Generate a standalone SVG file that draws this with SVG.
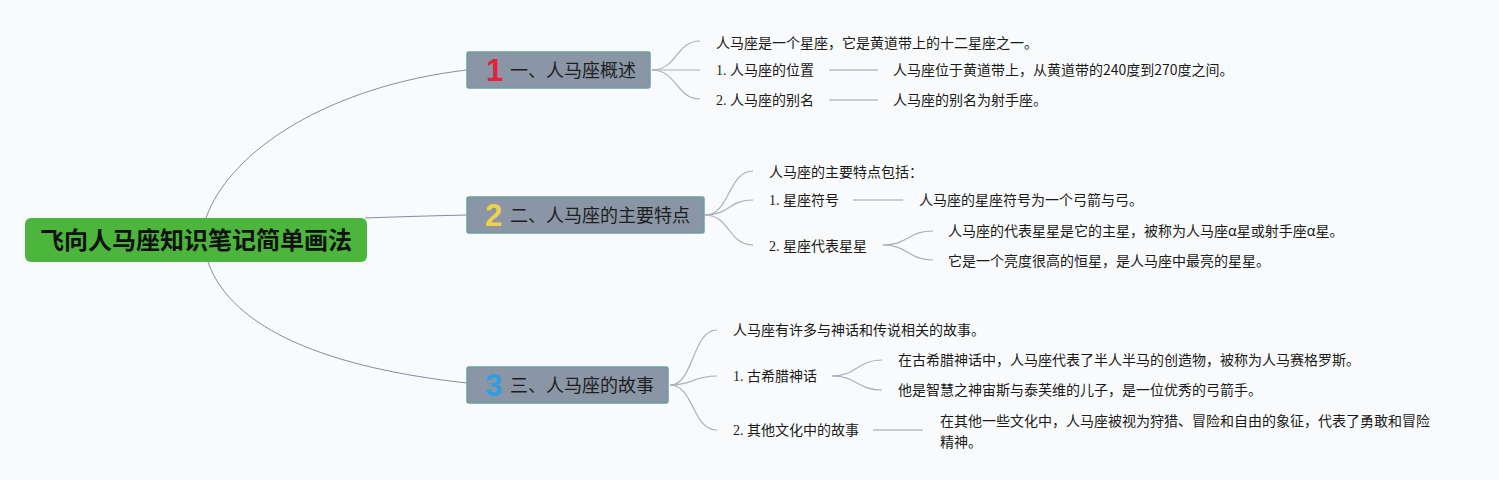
<svg xmlns="http://www.w3.org/2000/svg" width="1499" height="480" viewBox="0 0 1499 480">
<style>
.bg{fill:#f9fafb}
.root{fill:#4cb53c}
.rootT{font-family:"Noto Sans CJK SC",sans-serif;font-size:24px;font-weight:bold;fill:#111}
.br{fill:#8a96a6;stroke:#6c9e9e;stroke-width:1.5}
.brT{font-family:"Noto Sans CJK SC",sans-serif;font-size:18px;fill:#1e1e1e}
.num{font-family:"Liberation Sans",sans-serif;font-size:31px;font-weight:bold}
.t{font-family:"Noto Sans CJK SC",sans-serif;font-size:14px;fill:#1a1a1a}
.lbl{font-family:"Liberation Serif","Noto Sans CJK SC",serif;font-size:14px;fill:#1a1a1a}
.main{fill:none;stroke:#878c9b;stroke-width:1}
.sub{fill:none;stroke:#a9b0bb;stroke-width:1.2}
.st{fill:none;stroke:#b7bec9;stroke-width:1.6}
</style>
<rect class="bg" x="0" y="0" width="1499" height="480"/>
<g id="connectors">
<path class="main" d="M206 218 C230 150 330 86 467 70"/>
<path class="main" d="M365 218 Q420 216 467 215"/>
<path class="main" d="M208 262 C232 330 330 368 467 383"/>
<path class="sub" d="M652 70 C677 70 676 41 700 41"/>
<path class="sub" d="M652 70 L700 70"/>
<path class="sub" d="M652 70 C677 70 676 99 700 99"/>
<line class="st" x1="829" y1="70" x2="878" y2="70"/>
<line class="st" x1="829" y1="100" x2="878" y2="100"/>
<path class="sub" d="M705 215 C730 215 728 171 753 171"/>
<path class="sub" d="M705 215 C730 215 728 200 753 200"/>
<path class="sub" d="M705 215 C730 215 728 245 753 245"/>
<line class="st" x1="853" y1="200" x2="903" y2="200"/>
<path class="sub" d="M883 245 C908 245 908 231 933 231"/>
<path class="sub" d="M883 245 C908 245 908 260 933 260"/>
<path class="sub" d="M670 385 C694 385 692 330 717 330"/>
<path class="sub" d="M670 385 C694 385 692 376 717 376"/>
<path class="sub" d="M670 385 C694 385 692 430 717 430"/>
<path class="sub" d="M832 376 C857 376 857 360 882 360"/>
<path class="sub" d="M832 376 C857 376 857 390 882 390"/>
<line class="st" x1="873" y1="430" x2="923" y2="430"/>
</g>
<g id="root">
<rect class="root" x="25" y="218" width="342" height="44" rx="6"/>
<text class="rootT" x="196" y="249" text-anchor="middle">飞向人马座知识笔记简单画法</text>
</g>
<g id="branch1">
<rect class="br" x="467" y="52" width="183" height="36" rx="2"/>
<text class="num" x="486" y="81" fill="#e0243c">1</text>
<text class="brT" x="510" y="77">一、人马座概述</text>
</g>
<g id="b1-intro"><text class="t" x="716" y="48">人马座是一个星座，它是黄道带上的十二星座之一。</text></g>
<g id="b1-pos"><text class="lbl" x="716" y="75">1. 人马座的位置</text></g>
<g id="b1-pos-d"><text class="t" x="893" y="75">人马座位于黄道带上，从黄道带的240度到270度之间。</text></g>
<g id="b1-alias"><text class="lbl" x="716" y="105">2. 人马座的别名</text></g>
<g id="b1-alias-d"><text class="t" x="893" y="105">人马座的别名为射手座。</text></g>
<g id="branch2">
<rect class="br" x="467" y="197" width="237" height="36" rx="2"/>
<text class="num" x="485" y="226" fill="#f0d24a">2</text>
<text class="brT" x="510" y="222">二、人马座的主要特点</text>
</g>
<g id="b2-intro"><text class="t" x="769" y="177">人马座的主要特点包括：</text></g>
<g id="b2-sym"><text class="lbl" x="769" y="205">1. 星座符号</text></g>
<g id="b2-sym-d"><text class="t" x="919" y="205">人马座的星座符号为一个弓箭与弓。</text></g>
<g id="b2-star"><text class="lbl" x="769" y="251">2. 星座代表星星</text></g>
<g id="b2-star-d1"><text class="t" x="948" y="236">人马座的代表星星是它的主星，被称为人马座α星或射手座α星。</text></g>
<g id="b2-star-d2"><text class="t" x="948" y="266">它是一个亮度很高的恒星，是人马座中最亮的星星。</text></g>
<g id="branch3">
<rect class="br" x="467" y="367" width="201" height="36" rx="2"/>
<text class="num" x="485" y="396" fill="#2b9fe0">3</text>
<text class="brT" x="510" y="392">三、人马座的故事</text>
</g>
<g id="b3-intro"><text class="t" x="733" y="335">人马座有许多与神话和传说相关的故事。</text></g>
<g id="b3-greek"><text class="lbl" x="733" y="381">1. 古希腊神话</text></g>
<g id="b3-greek-d1"><text class="t" x="898" y="365">在古希腊神话中，人马座代表了半人半马的创造物，被称为人马赛格罗斯。</text></g>
<g id="b3-greek-d2"><text class="t" x="898" y="395">他是智慧之神宙斯与泰芙维的儿子，是一位优秀的弓箭手。</text></g>
<g id="b3-other"><text class="lbl" x="733" y="435">2. 其他文化中的故事</text></g>
<g id="b3-other-d"><text class="t" x="940" y="426">在其他一些文化中，人马座被视为狩猎、冒险和自由的象征，代表了勇敢和冒险</text><text class="t" x="940" y="447">精神。</text></g>
</svg>
